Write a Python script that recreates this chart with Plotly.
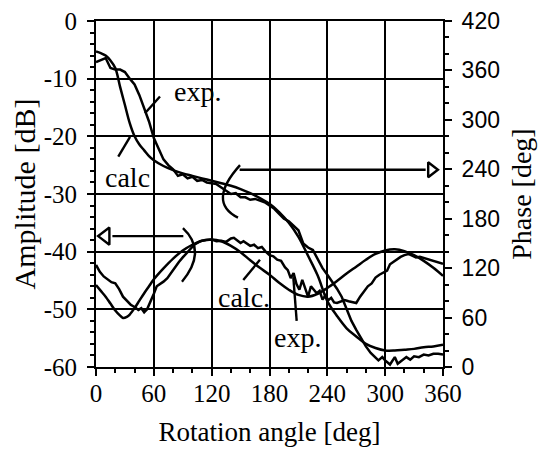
import plotly.graph_objects as go

# ---------------- data ----------------
amp_calc_x = [0, 5, 10, 15, 20, 25, 28, 32, 35, 40, 45, 50, 55, 60, 70, 80, 90, 100, 110, 120,
              130, 140, 150, 160, 170, 180, 190, 200, 210, 220, 230, 240, 250, 260, 270, 280,
              290, 300, 310, 320, 330, 340, 350, 360]
amp_calc_y = [-45.8, -46.8, -47.8, -49.0, -50.2, -51.1, -51.5, -51.3, -50.9, -49.8, -48.5, -47.2,
              -46.0, -44.8, -42.9, -41.2, -39.8, -38.8, -38.1, -37.9, -38.2, -39.0, -40.1, -41.5,
              -42.8, -44.0, -45.4, -46.6, -47.5, -47.8, -47.3, -46.3, -45.1, -43.8, -42.6, -41.4,
              -40.4, -39.8, -39.6, -39.9, -40.6, -41.6, -42.8, -44.2]

amp_exp_x = [0, 4, 8, 12, 16, 20, 24, 28, 32, 36, 40, 44, 47, 50, 53, 56, 60, 63, 67, 70, 74, 78,
             82, 86, 90, 94, 98, 102, 106, 110, 115, 120, 125, 130, 135, 140, 143, 147, 150, 153,
             157, 160, 164, 168, 172, 176, 180, 184, 188, 192, 196, 199, 202, 205, 208, 211, 214,
             217, 220, 223, 226, 229, 232, 235, 238, 241, 244, 247, 250, 254, 258, 262, 266, 270,
             274, 278, 282, 286, 290, 294, 298, 302, 305, 308, 312, 316, 320, 324, 328, 332, 336,
             340, 345, 350, 355, 360]
amp_exp_y = [-42.3, -43.5, -44.3, -44.8, -45.3, -45.5, -46.5, -47.8, -48.5, -49.2, -49.6, -50.1,
             -49.8, -50.5, -50.0, -48.9, -47.3, -46.0, -45.6, -45.2, -44.6, -43.6, -42.8, -41.8,
             -41.0, -40.3, -39.6, -38.8, -38.4, -38.1, -38.0, -37.9, -38.2, -38.1, -38.3, -37.7,
             -37.6, -38.2, -38.5, -38.2, -38.7, -39.0, -38.8, -39.4, -39.2, -40.0, -40.6, -40.8,
             -41.4, -41.6, -42.7, -43.2, -44.6, -43.7, -45.6, -46.6, -44.9, -46.2, -47.8, -46.0,
             -46.6, -47.2, -46.8, -48.3, -47.6, -48.4, -48.0, -48.8, -48.9, -48.6, -48.4, -48.6,
             -48.8, -48.9, -47.8, -46.8, -46.0, -45.5, -44.5, -44.0, -43.6, -43.3, -42.2, -41.8,
             -41.4, -40.9, -40.6, -40.4, -40.7, -41.0, -40.9, -41.1, -41.4, -41.6, -41.8, -42.1]

ph_calc_x = [0, 5, 10, 15, 20, 25, 30, 35, 40, 45, 50, 55, 60, 70, 80, 90, 100, 110, 120, 130,
             140, 150, 160, 170, 180, 190, 200, 210, 220, 230, 240, 250, 260, 270, 280, 290, 300,
             310, 320, 330, 340, 350, 360]
ph_calc_y = [383, 381, 378, 372, 363, 340, 318, 296, 280, 270, 263, 256, 251, 244, 239, 235, 232,
             229, 226, 223, 220, 216, 211, 205, 198, 188, 175, 158, 135, 111, 80, 62, 47, 37, 28,
             23, 20, 20, 21, 22, 24, 25, 27]

ph_exp_x = [0, 5, 10, 15, 20, 25, 30, 35, 40, 45, 50, 55, 60, 65, 70, 75, 80, 85, 90, 95, 100,
            105, 110, 115, 120, 125, 130, 135, 140, 145, 150, 155, 160, 165, 170, 175, 180, 185,
            190, 195, 200, 205, 210, 215, 220, 225, 230, 235, 240, 245, 250, 255, 260, 265, 270,
            275, 280, 285, 290, 293, 297, 300, 305, 310, 313, 318, 322, 326, 330, 335, 340, 345,
            350, 355, 360]
ph_exp_y = [370, 373, 375, 363, 361, 361, 358, 350, 343, 330, 314, 298, 278, 266, 252, 245, 240,
            232, 234, 229, 231, 226, 227, 224, 223, 222, 218, 214, 210, 211, 206, 206, 203, 204,
            202, 200, 196, 192, 186, 180, 177, 172, 166, 150, 145, 142, 130, 120, 112, 104, 95,
            85, 70, 56, 45, 35, 25, 17, 12, 8, 12, 8, 3, 12, 4, 8, 12, 9, 13, 12, 15, 14, 16, 16,
            15]

x_ticks = [0, 60, 120, 180, 240, 300, 360]
amp_ticks = [0, -10, -20, -30, -40, -50, -60]
amp_tick_text = ["0", "-10", "-20", "-30", "-40", "-50", "-60"]
phase_ticks = [0, 60, 120, 180, 240, 300, 360, 420]

# ---------------- figure ----------------
SERIF = "Liberation Serif"
SANS = "Liberation Sans"
line = dict(color="black", width=2.5)

fig = go.Figure()
fig.add_trace(go.Scatter(x=amp_calc_x, y=amp_calc_y, mode="lines", line=line, line_shape="spline", yaxis="y"))
fig.add_trace(go.Scatter(x=amp_exp_x, y=amp_exp_y, mode="lines", line=line, yaxis="y"))
fig.add_trace(go.Scatter(x=ph_calc_x, y=ph_calc_y, mode="lines", line=line, line_shape="spline", yaxis="y2"))
fig.add_trace(go.Scatter(x=ph_exp_x, y=ph_exp_y, mode="lines", line=line, yaxis="y2"))

# arrow heads (open triangles)
fig.add_trace(go.Scatter(x=[348], y=[-25.8], mode="markers", yaxis="y",
                         marker=dict(symbol="triangle-right-open", size=13, color="black",
                                     line=dict(width=2.4, color="black"))))
fig.add_trace(go.Scatter(x=[10], y=[-37.3], mode="markers", yaxis="y",
                         marker=dict(symbol="triangle-left-open", size=15, color="black",
                                     line=dict(width=2.4, color="black"))))

shape_line = dict(color="black", width=2.4)
shapes = [
    dict(type="line", xref="x", yref="y", x0=149, y0=-25.8, x1=342, y1=-25.8, line=shape_line),
    dict(type="line", xref="x", yref="y", x0=17, y0=-37.3, x1=90.6, y1=-37.3, line=shape_line),
    dict(type="path", xref="x", yref="y", path="M 149.4,-25 Q 115,-31.4 147.3,-34.1", line=shape_line),
    dict(type="path", xref="x", yref="y", path="M 90.2,-35.9 Q 115.7,-39.9 89.2,-45.2", line=shape_line),
    # leader lines
    dict(type="line", xref="x", yref="y", x0=66.4, y0=-13.1, x1=50.8, y1=-16.0, line=shape_line),
    dict(type="line", xref="x", yref="y", x0=23.1, y0=-23.5, x1=35.3, y1=-20.1, line=shape_line),
    dict(type="line", xref="x", yref="y", x0=152.8, y0=-44.9, x1=170.1, y1=-41.4, line=shape_line),
    dict(type="line", xref="x", yref="y", x0=208.2, y0=-52.0, x1=204.7, y1=-44.4, line=shape_line),
]

ann_font = dict(family=SERIF, size=28, color="black")
annotations = [
    dict(x=104.8, y=-12.3, xref="x", yref="y", text="exp.", showarrow=False, font=ann_font),
    dict(x=32.7, y=-27.2, xref="x", yref="y", text="calc", showarrow=False, font=ann_font),
    dict(x=153.5, y=-48.0, xref="x", yref="y", text="calc.", showarrow=False, font=ann_font),
    dict(x=209.5, y=-54.9, xref="x", yref="y", text="exp.", showarrow=False, font=ann_font),
]

tick_font = dict(family=SERIF, size=25, color="black")

# the page body has an 8px margin, so the figure is sized to fit the 549x449 window
fig.update_layout(
    width=541, height=441,
    margin=dict(l=88, r=106, t=13, b=82, autoexpand=False),
    paper_bgcolor="white", plot_bgcolor="white",
    showlegend=False,
    shapes=shapes, annotations=annotations,
    xaxis=dict(
        range=[0, 360], tickvals=x_ticks, ticks="outside", ticklen=7, tickwidth=2,
        tickcolor="black", showline=True, linecolor="black", linewidth=2, mirror=True,
        showgrid=True, gridcolor="black", gridwidth=1.6, zeroline=False, automargin=False,
        tickfont=tick_font, ticklabelstandoff=-4, ticklabeloverflow="allow",
        title=dict(text="Rotation angle [deg]", font=dict(family=SERIF, size=27, color="black"),
                   standoff=16),
        minor=dict(dtick=20, tick0=0, ticks="outside", ticklen=4, tickwidth=1.5,
                   tickcolor="black", showgrid=False),
    ),
    yaxis=dict(
        range=[-60, 0], tickvals=amp_ticks, ticktext=amp_tick_text, ticks="outside",
        ticklen=7, tickwidth=2, tickcolor="black", showline=True, linecolor="black",
        linewidth=2, showgrid=True, gridcolor="black", gridwidth=1.6, zeroline=False,
        automargin=False, tickfont=tick_font, ticklabelstandoff=5, ticklabeloverflow="allow",
        title=dict(text="Amplitude [dB]", font=dict(family=SERIF, size=30, color="black"),
                   standoff=0),
        minor=dict(dtick=2, tick0=0, ticks="outside", ticklen=4, tickwidth=1.5,
                   tickcolor="black", showgrid=False),
    ),
    yaxis2=dict(
        range=[0, 420], tickvals=phase_ticks, overlaying="y", side="right", anchor="x",
        ticks="outside", ticklen=7, tickwidth=2, tickcolor="black", showline=True,
        linecolor="black", linewidth=2, showgrid=False, zeroline=False, automargin=False,
        tickfont=dict(family=SANS, size=23, color="black"), ticklabelstandoff=5,
        ticklabeloverflow="allow",
        title=dict(text="Phase [deg]", font=dict(family=SERIF, size=28, color="black"),
                   standoff=12),
        minor=dict(dtick=20, tick0=0, ticks="outside", ticklen=4, tickwidth=1.5,
                   tickcolor="black", showgrid=False),
    ),
)

fig.write_html("out.html")
